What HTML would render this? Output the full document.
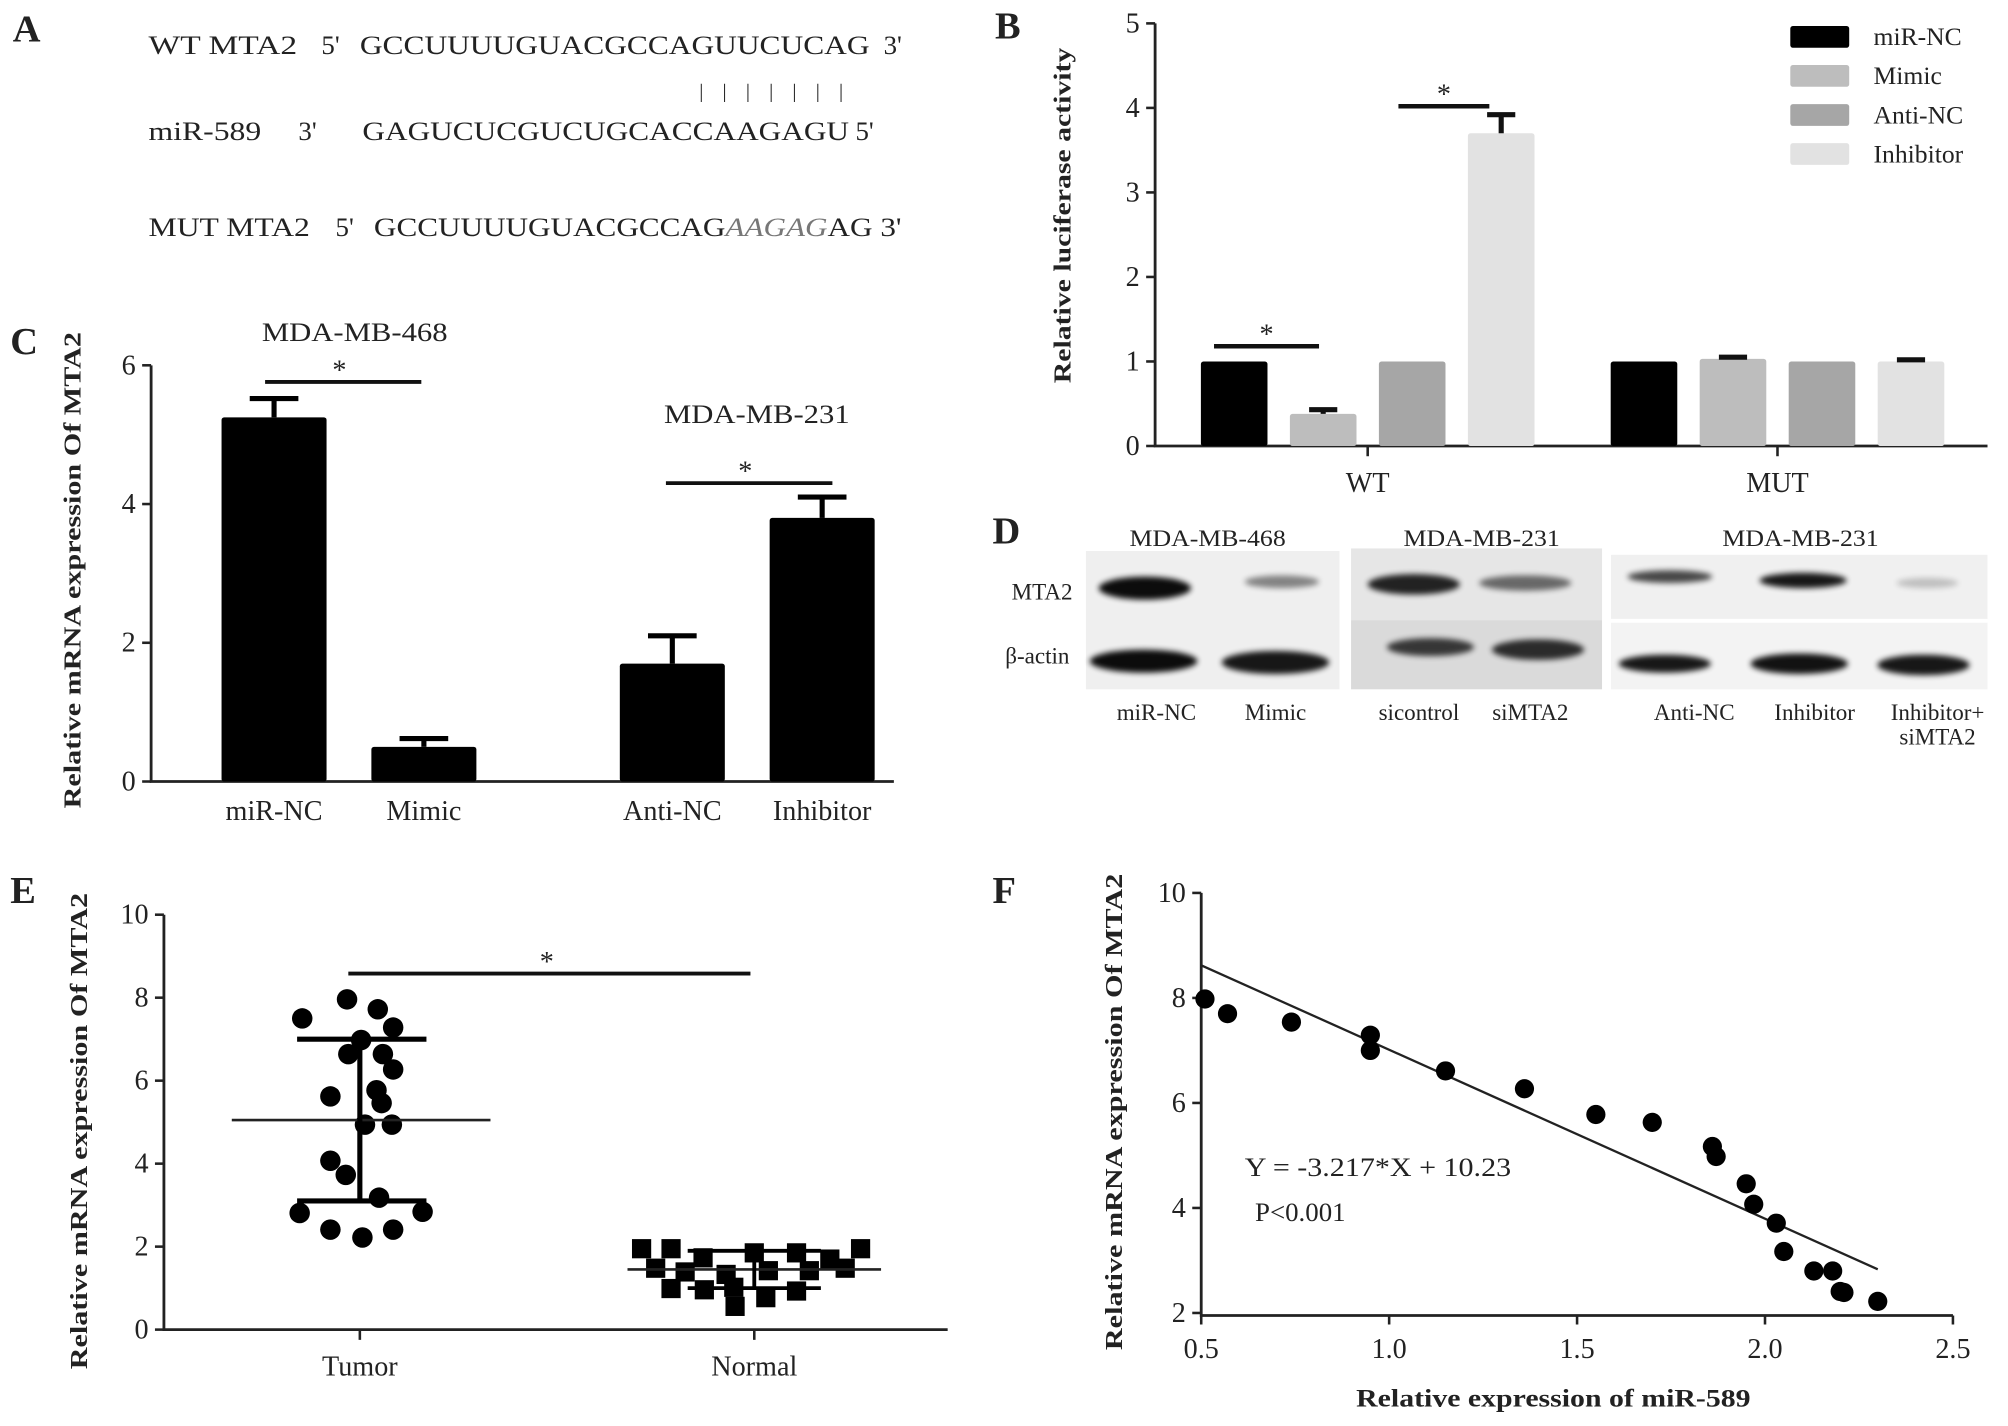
<!DOCTYPE html>
<html><head><meta charset="utf-8"><style>
html,body{margin:0;padding:0;background:#fff}
svg{display:block}
text{font-family:"Liberation Serif",serif;fill:#222}
</style></head><body>
<svg id="fig" width="2008" height="1426" viewBox="0 0 1568 1113">
<defs>
<filter id="blur" x="-20%" y="-50%" width="140%" height="200%"><feGaussianBlur stdDeviation="2.2"/></filter>
</defs>
<g font-size="21">
<text x="10" y="32" font-size="30" font-weight="bold">A</text>
<text x="116" y="42" textLength="116" lengthAdjust="spacingAndGlyphs">WT MTA2</text>
<text x="251" y="42">5'</text>
<text x="281" y="42" textLength="398" lengthAdjust="spacingAndGlyphs">GCCUUUUGUACGCCAGUUCUCAG</text>
<text x="690" y="42">3'</text>
<text x="546" y="76" font-size="16" letter-spacing="15" fill="#555">|||||||</text>
<text x="116" y="109" textLength="88" lengthAdjust="spacingAndGlyphs">miR-589</text>
<text x="233" y="109">3'</text>
<text x="283" y="109" textLength="380" lengthAdjust="spacingAndGlyphs">GAGUCUCGUCUGCACCAAGAGU</text>
<text x="668" y="109">5'</text>
<text x="116" y="184" textLength="126" lengthAdjust="spacingAndGlyphs">MUT MTA2</text>
<text x="262" y="184">5'</text>
<text x="292" y="184" textLength="412" lengthAdjust="spacingAndGlyphs">GCCUUUUGUACGCCAG<tspan font-style="italic" fill="#777">AAGAG</tspan>AG 3'</text>
</g>
<g id="panelB"></g>
<g id="panelC"></g>
<g id="panelD"></g>
<g id="panelE"></g>
<g id="panelF"></g>
</svg>
<script>
const bGroups = ["WT", "MUT"];
const bSeries = ["miR-NC", "Mimic", "Anti-NC", "Inhibitor"];
const bWT = [1.0, 0.38, 1.0, 3.7];
const bWTErr = [0, 0.05, 0, 0.22];
const bMUT = [1.0, 1.03, 1.0, 1.0];
const bMUTErr = [0, 0.02, 0, 0.02];
const bTicks = [0, 1, 2, 3, 4, 5];
const cCategories = ["miR-NC", "Mimic", "Anti-NC", "Inhibitor"];
const cValues = [5.25, 0.5, 1.7, 3.8];
const cErr = [0.27, 0.12, 0.4, 0.3];
const cTicks = [0, 2, 4, 6];
const eCategories = ["Tumor", "Normal"];
const tumorValues = [7.96,7.72,7.5,7.28,6.98,6.64,6.64,6.27,5.77,5.62,5.46,4.94,4.94,4.07,3.73,3.18,2.81,2.84,2.41,2.22,2.41];
const normalValues = [1.95,1.95,1.73,1.85,1.85,1.70,1.95,1.48,1.39,1.33,1.42,1.42,1.48,0.99,0.96,1.02,0.77,0.93,0.56];
const tumorMean = 5.05, tumorSDLow = 3.1, tumorSDHigh = 7.0;
const normalMean = 1.45, normalSDLow = 1.0, normalSDHigh = 1.9;
const eTicks = [0, 2, 4, 6, 8, 10];
const fX = [0.51,0.57,0.74,0.95,0.95,1.15,1.36,1.55,1.70,1.86,1.87,1.95,1.97,2.03,2.05,2.13,2.18,2.2,2.21,2.30];
const fY = [7.98,7.70,7.54,7.29,7.00,6.61,6.27,5.78,5.63,5.17,4.98,4.46,4.07,3.71,3.17,2.80,2.80,2.41,2.39,2.22];
const fSlope = -3.217, fIntercept = 10.23;
const fXTicks = [0.5, 1.0, 1.5, 2.0, 2.5];
const fYTicks = [2, 4, 6, 8, 10];

const NS = "http://www.w3.org/2000/svg";
function mk(parent, tag, attrs, txt) {
  const el = document.createElementNS(NS, tag);
  for (const k in attrs) el.setAttribute(k, attrs[k]);
  if (txt !== undefined) el.textContent = txt;
  parent.appendChild(el);
  return el;
}

(function(){
  const g = document.getElementById("panelB");
  const x0 = 902, x1 = 1552, yb = 348, yt = 18;
  const ys = v => yb - (yb - yt) * v / 5;
  const colors = ["#000", "#bdbdbd", "#a6a6a6", "#e2e2e2"];
  let t = mk(g, "text", {x: 777, y: 30, "font-size": 30, "font-weight": "bold"});
  t.textContent = "B";
  
  
  let ax = mk(g, "path", {d: `M${x0},${yt} V${yb} H${x1}`, stroke: "#222", "stroke-width": 2.2, fill: "none"});
  
  
  bTicks.forEach(v => {
    mk(g, "line", {x1: x0 - 7, x2: x0, y1: ys(v), y2: ys(v), stroke: "#222", "stroke-width": 2});
    const tt = mk(g, "text", {x: x0 - 12, y: ys(v) + 7, "text-anchor": "end", "font-size": 22}, v);
    
    
  });
  const yl = mk(g, "text", {transform: `translate(836,168) rotate(-90)`, "text-anchor": "middle", "font-size": 19, "font-weight": "bold", fill: "#333", textLength: 262, lengthAdjust: "spacingAndGlyphs"}, "Relative luciferase activity");
  
  
  const groupCenters = [1068, 1388];
  const barW = 52, step = 69.5;
  [bWT, bMUT].forEach((vals, gi) => {
    const errs = gi === 0 ? bWTErr : bMUTErr;
    const c = groupCenters[gi];
    mk(g, "line", {x1: c, x2: c, y1: yb, y2: yb + 8, stroke: "#222", "stroke-width": 2});
    const gl = mk(g, "text", {x: c, y: yb + 36, "text-anchor": "middle", "font-size": 22}, bGroups[gi]);
    
    
    vals.forEach((v, i) => {
      const cx = c + (i - 1.5) * step;
      const r = mk(g, "rect", {x: cx - barW/2, y: ys(v), width: barW, height: yb - ys(v), fill: colors[i], rx: 2});
      
      
      if (errs[i] > 0) {
        mk(g, "line", {x1: cx, x2: cx, y1: ys(v), y2: ys(v + errs[i]), stroke: "#111", "stroke-width": 4});
        mk(g, "line", {x1: cx - 11, x2: cx + 11, y1: ys(v + errs[i]), y2: ys(v + errs[i]), stroke: "#111", "stroke-width": 4});
      }
    });
  });
  [[948, 1030, 1.18], [1092, 1163, 4.02]].forEach(s => {
    const l = mk(g, "line", {x1: s[0], x2: s[1], y1: ys(s[2]), y2: ys(s[2]), stroke: "#111", "stroke-width": 3.5});
    
    
    mk(g, "text", {x: (s[0] + s[1]) / 2, y: ys(s[2]) - 2, "text-anchor": "middle", "font-size": 22, fill: "#666"}, "*");
  });
  bSeries.forEach((s, i) => {
    const y = 20 + i * 30.5;
    const sw = mk(g, "rect", {x: 1398, y: y, width: 46, height: 17, fill: colors[i], rx: 2});
    
    
    const lt = mk(g, "text", {x: 1463, y: y + 15, "font-size": 20}, s);
    
    
  });
})();

(function(){
  const g = document.getElementById("panelC");
  const x0 = 118, x1 = 698, yb = 610, yt = 285;
  const ys = v => yb - (yb - yt) * v / 6;
  const t = mk(g, "text", {x: 8, y: 276, "font-size": 30, "font-weight": "bold"}, "C");
  
  
  const ax = mk(g, "path", {d: `M${x0},${yt} V${yb} H${x1}`, stroke: "#222", "stroke-width": 2.2, fill: "none"});
  
  
  cTicks.forEach(v => {
    mk(g, "line", {x1: x0 - 7, x2: x0, y1: ys(v), y2: ys(v), stroke: "#222", "stroke-width": 2});
    const tt = mk(g, "text", {x: x0 - 12, y: ys(v) + 7, "text-anchor": "end", "font-size": 22}, v);
    
    
  });
  const yl = mk(g, "text", {transform: `translate(63,445) rotate(-90)`, "text-anchor": "middle", "font-size": 19, "font-weight": "bold", fill: "#333", textLength: 372, lengthAdjust: "spacingAndGlyphs"}, "Relative mRNA expression Of MTA2");
  
  
  const centers = [214, 331, 525, 642];
  cValues.forEach((v, i) => {
    const cx = centers[i];
    const r = mk(g, "rect", {x: cx - 41, y: ys(v), width: 82, height: yb - ys(v), fill: "#000", rx: 2});
    
    
    mk(g, "line", {x1: cx, x2: cx, y1: ys(v), y2: ys(v + cErr[i]), stroke: "#000", "stroke-width": 4});
    mk(g, "line", {x1: cx - 19, x2: cx + 19, y1: ys(v + cErr[i]), y2: ys(v + cErr[i]), stroke: "#000", "stroke-width": 4});
    const lt = mk(g, "text", {x: cx, y: 640, "text-anchor": "middle", "font-size": 22}, cCategories[i]);
    
    
  });
  const t1 = mk(g, "text", {x: 277, y: 266, "text-anchor": "middle", "font-size": 21, textLength: 145, lengthAdjust: "spacingAndGlyphs"}, "MDA-MB-468");
  
  
  const t2 = mk(g, "text", {x: 591, y: 330, "text-anchor": "middle", "font-size": 21, textLength: 145, lengthAdjust: "spacingAndGlyphs"}, "MDA-MB-231");
  
  
  [[207, 329, 298], [520, 650, 377]].forEach(s => {
    const l = mk(g, "line", {x1: s[0], x2: s[1], y1: s[2], y2: s[2], stroke: "#111", "stroke-width": 3});
    
    
    mk(g, "text", {x: (s[0] + s[1]) / 2 - 3, y: s[2] - 2, "text-anchor": "middle", "font-size": 22, fill: "#666"}, "*");
  });
})();

(function(){
  const g = document.getElementById("panelD");
  const t = mk(g, "text", {x: 775, y: 424, "font-size": 30, "font-weight": "bold"}, "D");
  
  
  mk(g, "rect", {x: 848, y: 430, width: 198, height: 108, fill: "#efefef"});
  mk(g, "rect", {x: 1055, y: 428, width: 196, height: 56, fill: "#e6e6e6"});
  mk(g, "rect", {x: 1055, y: 484, width: 196, height: 54, fill: "#dadada"});
  mk(g, "rect", {x: 1258, y: 433, width: 294, height: 50, fill: "#f0f0f0"});
  mk(g, "rect", {x: 1258, y: 486, width: 294, height: 52, fill: "#f3f3f3"});
  [["MDA-MB-468", 943], ["MDA-MB-231", 1157], ["MDA-MB-231", 1406]].forEach(a => {
    const tt = mk(g, "text", {x: a[1], y: 426, "text-anchor": "middle", "font-size": 18, textLength: 122, lengthAdjust: "spacingAndGlyphs"}, a[0]);
    
    
  });
  const r1 = mk(g, "text", {x: 790, y: 468, "font-size": 18}, "MTA2");
  
  
  const r2 = mk(g, "text", {x: 785, y: 518, "font-size": 18}, "β-actin");
  
  
  const mta2Bands = [[894, 459, 36, 9, 0.95], [1001, 454, 29, 5, 0.45], [1104, 456, 36, 8, 0.85], [1191, 455, 36, 6, 0.55], [1304, 450, 33, 5, 0.7], [1408, 453, 34, 6, 0.9], [1505, 455, 24, 4, 0.2]];
  const actinBands = [[893, 516, 42, 9, 0.95], [996, 517, 42, 9, 0.9], [1117, 505, 34, 7, 0.75], [1201, 507, 36, 8, 0.8], [1300, 518, 36, 7, 0.9], [1405, 518, 38, 8, 0.92], [1502, 519, 36, 8, 0.9]];
  mta2Bands.concat(actinBands).forEach(b => {
    const e = mk(g, "ellipse", {cx: b[0], cy: b[1], rx: b[2], ry: b[3], fill: "#000", opacity: b[4], filter: "url(#blur)"});
    
    
  });
  [["miR-NC", 903, 562], ["Mimic", 996, 562], ["sicontrol", 1108, 562], ["siMTA2", 1195, 562], ["Anti-NC", 1323, 562], ["Inhibitor", 1417, 562], ["Inhibitor+", 1513, 562], ["siMTA2", 1513, 581]].forEach(a => {
    const tt = mk(g, "text", {x: a[1], y: a[2], "text-anchor": "middle", "font-size": 18}, a[0]);
    
    
  });
})();

(function(){
  const g = document.getElementById("panelE");
  const x0 = 128, x1 = 740, yb = 1038, yt = 714;
  const ys = v => yb - (yb - yt) * v / 10;
  const t = mk(g, "text", {x: 8, y: 705, "font-size": 30, "font-weight": "bold"}, "E");
  
  
  const ax = mk(g, "path", {d: `M${x0},${yt} V${yb} H${x1}`, stroke: "#222", "stroke-width": 2.2, fill: "none"});
  
  
  eTicks.forEach(v => {
    mk(g, "line", {x1: x0 - 7, x2: x0, y1: ys(v), y2: ys(v), stroke: "#222", "stroke-width": 2});
    const tt = mk(g, "text", {x: x0 - 12, y: ys(v) + 7, "text-anchor": "end", "font-size": 22}, v);
    
    
  });
  const yl = mk(g, "text", {transform: `translate(68,883) rotate(-90)`, "text-anchor": "middle", "font-size": 19, "font-weight": "bold", fill: "#333", textLength: 372, lengthAdjust: "spacingAndGlyphs"}, "Relative mRNA expression Of MTA2");
  
  
  const centers = [281, 589];
  eCategories.forEach((c, i) => {
    mk(g, "line", {x1: centers[i], x2: centers[i], y1: yb, y2: yb + 8, stroke: "#222", "stroke-width": 2});
    const lt = mk(g, "text", {x: centers[i], y: 1074, "text-anchor": "middle", "font-size": 22}, c);
    
    
  });
  const tj = [-10, 14, -45, 26, 1, -9, 18, 26, 13, -23, 17, 25, 4, -23, -11, 15, -47, 49, -23, 2, 26];
  tumorValues.forEach((v, i) => {
    const c = mk(g, "circle", {cx: centers[0] + tj[i % tj.length], cy: ys(v), r: 8, fill: "#000"});
    
    
  });
  const nj = [-88, -65, -40, 0, 33, 59, 83, -77, -54, -22, 11, 43, 71, -65, -39, -16, 9, 33, -15];
  normalValues.forEach((v, i) => {
    const s = mk(g, "rect", {x: centers[1] + nj[i % nj.length] - 7.5, y: ys(v) - 7.5, width: 15, height: 15, fill: "#000"});
    
    
  });
  const m1 = mk(g, "line", {x1: 181, x2: 383, y1: ys(tumorMean), y2: ys(tumorMean), stroke: "#222", "stroke-width": 2});
  
  
  mk(g, "line", {x1: centers[0], x2: centers[0], y1: ys(tumorSDLow), y2: ys(tumorSDHigh), stroke: "#000", "stroke-width": 4});
  [tumorSDLow, tumorSDHigh].forEach(v => mk(g, "line", {x1: 232, x2: 333, y1: ys(v), y2: ys(v), stroke: "#000", "stroke-width": 4}));
  const m2 = mk(g, "line", {x1: 490, x2: 688, y1: ys(normalMean), y2: ys(normalMean), stroke: "#222", "stroke-width": 2});
  
  
  mk(g, "line", {x1: centers[1], x2: centers[1], y1: ys(normalSDLow), y2: ys(normalSDHigh), stroke: "#000", "stroke-width": 3});
  [normalSDLow, normalSDHigh].forEach(v => mk(g, "line", {x1: 537, x2: 641, y1: ys(v), y2: ys(v), stroke: "#000", "stroke-width": 3}));
  const sl = mk(g, "line", {x1: 272, x2: 586, y1: 760, y2: 760, stroke: "#111", "stroke-width": 3});
  
  
  mk(g, "text", {x: 427, y: 758, "text-anchor": "middle", "font-size": 22, fill: "#666"}, "*");
})();

(function(){
  const g = document.getElementById("panelF");
  const x0 = 938, x1 = 1525, yb = 1025, yt = 697;
  const xs = v => x0 + (x1 - x0) * (v - 0.5) / 2;
  const ys = v => yb - (yb - yt) * (v - 2) / 8;
  const t = mk(g, "text", {x: 775, y: 705, "font-size": 30, "font-weight": "bold"}, "F");
  
  
  const ax = mk(g, "path", {d: `M${x0},${yt} V${yb + 2} H${x1}`, stroke: "#222", "stroke-width": 2.2, fill: "none"});
  
  
  fYTicks.forEach(v => {
    mk(g, "line", {x1: x0 - 7, x2: x0, y1: ys(v), y2: ys(v), stroke: "#222", "stroke-width": 2});
    const tt = mk(g, "text", {x: x0 - 12, y: ys(v) + 7, "text-anchor": "end", "font-size": 22}, v);
    
    
  });
  fXTicks.forEach(v => {
    mk(g, "line", {x1: xs(v), x2: xs(v), y1: yb + 2, y2: yb + 9, stroke: "#222", "stroke-width": 2});
    const tt = mk(g, "text", {x: xs(v), y: yb + 35, "text-anchor": "middle", "font-size": 22}, v.toFixed(1));
    
    
  });
  const yl = mk(g, "text", {transform: `translate(876,868) rotate(-90)`, "text-anchor": "middle", "font-size": 19, "font-weight": "bold", fill: "#333", textLength: 372, lengthAdjust: "spacingAndGlyphs"}, "Relative mRNA expression Of MTA2");
  
  
  const xl = mk(g, "text", {x: 1213, y: 1098, "text-anchor": "middle", "font-size": 20, "font-weight": "bold", fill: "#333", textLength: 308, lengthAdjust: "spacingAndGlyphs"}, "Relative expression of miR-589");
  
  
  const rl = mk(g, "line", {x1: xs(0.5), x2: xs(2.3), y1: ys(fSlope * 0.5 + fIntercept), y2: ys(fSlope * 2.3 + fIntercept), stroke: "#222", "stroke-width": 1.8});
  
  
  fX.forEach((x, i) => {
    const c = mk(g, "circle", {cx: xs(x), cy: ys(fY[i]), r: 7.5, fill: "#000"});
    
    
  });
  const eq = mk(g, "text", {x: 972, y: 918, "font-size": 21, textLength: 208, lengthAdjust: "spacingAndGlyphs"}, "Y = -3.217*X + 10.23");
  
  
  const p = mk(g, "text", {x: 980, y: 953, "font-size": 21}, "P<0.001");
  
  
})();
</script>
</body></html>
